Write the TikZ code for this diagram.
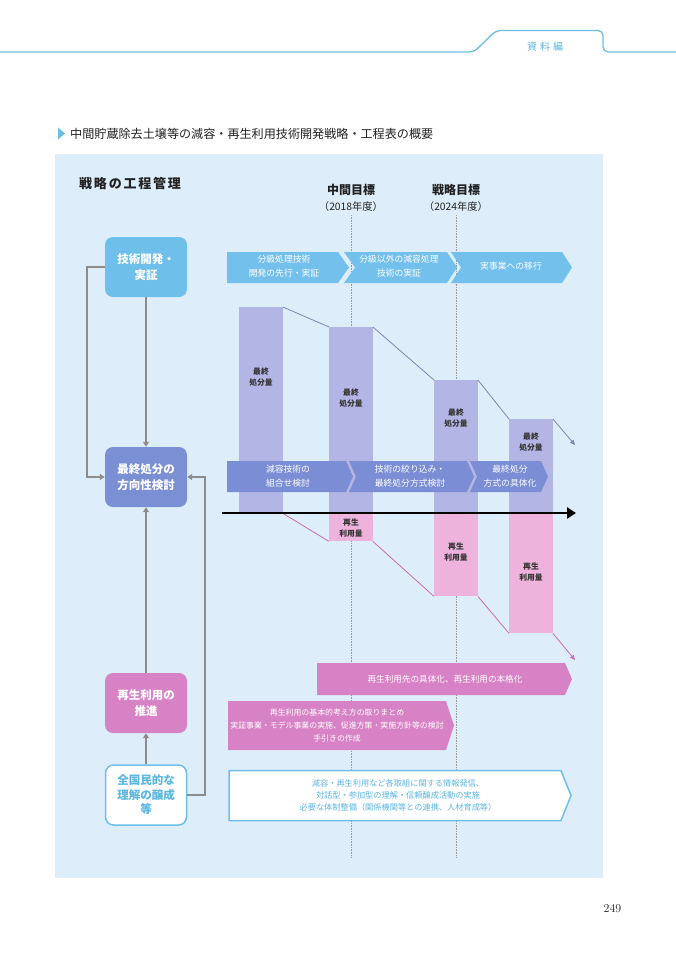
\documentclass[tikz,border=0pt]{standalone}
\usepackage{fontspec}
\newfontfamily\jp{Noto Sans CJK JP}
\usetikzlibrary{arrows.meta}
\definecolor{panel}{HTML}{DDEEFA}
\definecolor{techblue}{HTML}{6EC0EA}
\definecolor{arrowblue}{HTML}{74C0EC}
\definecolor{finalblue}{HTML}{7B8FD5}
\definecolor{midblue}{HTML}{7B8DD5}
\definecolor{lavbar}{HTML}{B3B6E4}
\definecolor{pinkbar}{HTML}{EEB3DD}
\definecolor{magentab}{HTML}{D882C6}
\definecolor{conngray}{HTML}{8C8C8C}
\definecolor{headblue}{HTML}{6BBDE4}
\definecolor{darktext}{HTML}{222222}
\definecolor{bartext}{HTML}{333333}
\definecolor{lavline}{HTML}{7F84B0}
\definecolor{pinkline}{HTML}{C86CB4}
\definecolor{dotgray}{HTML}{9A9A9A}
\definecolor{textblue}{HTML}{5BB6E2}
\newcommand\lsp{\hspace{1.8pt}}
\begin{document}
\begin{tikzpicture}[x=1pt,y=-1pt,
  boxnode/.style={rounded corners=8pt, minimum width=82pt, minimum height=60pt, inner sep=0pt, align=center, font=\jp\bfseries\fontsize{11.5}{16}\selectfont, text=white},
  conn/.style={draw=conngray, line width=1.8pt, -{Triangle[length=5pt,width=6pt]}},
  chevtxt/.style={text=white, align=center, inner sep=0pt, font=\jp\fontsize{8.8}{14}\selectfont},
  bartxt/.style={text=bartext, align=center, inner sep=0pt, font=\jp\bfseries\fontsize{7.8}{11.5}\selectfont},
  barst/.style={anchor=north west, inner sep=0pt, minimum width=43.5pt},
  dotline/.style={draw=dotgray, line width=0.7pt, dash pattern=on 0.7pt off 0.9pt},
  trend/.style={line width=0.8pt},
  coltitle/.style={font=\jp\bfseries\fontsize{12}{14}\selectfont, text=darktext, inner sep=0pt},
  colyear/.style={font=\jp\fontsize{10.3}{12}\selectfont, text=darktext, inner sep=0pt}
]
\useasboundingbox (0,0) rectangle (676,960);
\fill[white] (0,0) rectangle (676,960);

% header
\draw[headblue, line width=1.3pt, rounded corners=5pt] (0,52) -- (474,52) -- (496,30.5) -- (603,30.5) -- (603,52) -- (676,52);
\node[font=\jp\fontsize{10}{12}\selectfont, text=textblue, inner sep=0pt] (hdr) at (545,47) {資\hspace{3pt}料\hspace{3pt}編};

% title
\fill[headblue] (58,127.5) -- (65,133.5) -- (58,139.5) -- cycle;
\node[anchor=west, font=\jp\fontsize{12.1}{14}\selectfont, text=darktext, inner sep=0pt] (title) at (70,133.5) {中間貯蔵除去土壌等の減容・再生利用技術開発戦略・工程表の概要};

% panel
\fill[panel] (55,154) rectangle (603,878);

\node[anchor=west, font=\jp\bfseries\fontsize{13}{15}\selectfont, text=darktext, inner sep=0pt] (mgmt) at (79,184) {戦\lsp 略\lsp の\lsp 工\lsp 程\lsp 管\lsp 理};

\node[coltitle] (midgoal) at (351,190) {中間目標};
\node[colyear] (midyear) at (351,207) {（2018年度）};
\node[coltitle] (stratgoal) at (456,190) {戦略目標};
\node[colyear] (stratyear) at (456,207) {（2024年度）};

% dotted lines
\coordinate (d1t) at (351,215);
\coordinate (d1b) at (351,857);
\coordinate (d2t) at (456,215);
\coordinate (d2b) at (456,857);
\draw[dotline] (d1t) -- (d1b);
\draw[dotline] (d2t) -- (d2b);

% top chevrons
\fill[arrowblue] (227,252) -- (338,252) -- (349,267.5) -- (338,283) -- (227,283) -- cycle;
\fill[arrowblue] (344,252) -- (447,252) -- (457,267.5) -- (447,283) -- (344,283) -- (355,267.5) -- cycle;
\fill[arrowblue] (451,252) -- (562,252) -- (572,267.5) -- (562,283) -- (451,283) -- (461,267.5) -- cycle;
\node[chevtxt] (t1) at (284,266.5) {分級処理技術\\開発の先行・実証};
\node[chevtxt] (t2) at (399,266.5) {分級以外の減容処理\\技術の実証};
\node[chevtxt] (t3) at (511,266.5) {実事業への移行};

% bars
\node[barst, fill=lavbar, minimum height=206pt] (b1) at (239,307) {};
\node[barst, fill=lavbar, minimum height=186pt] (b2) at (329,327) {};
\node[barst, fill=lavbar, minimum height=133pt] (b3) at (434,380) {};
\node[barst, fill=lavbar, minimum height=94pt] (b4) at (509,419) {};
\node[barst, fill=pinkbar, minimum height=28pt] (p2) at (329,513) {};
\node[barst, fill=pinkbar, minimum height=83pt] (p3) at (434,513) {};
\node[barst, fill=pinkbar, minimum height=120pt] (p4) at (509,513) {};

\node[bartxt] (l1) at (261,377) {最終\\処分量};
\node[bartxt] (l2) at (351,398) {最終\\処分量};
\node[bartxt] (l3) at (456,418) {最終\\処分量};
\node[bartxt] (l4) at (531,442) {最終\\処分量};
\node[bartxt] (r2) at (351,528) {再生\\利用量};
\node[bartxt] (r3) at (456,552) {再生\\利用量};
\node[bartxt] (r4) at (531,572) {再生\\利用量};

% trend lines
\coordinate (lavend) at (575,445);
\coordinate (pinkend) at (575,660);
\draw[trend, lavline] (b1.north east) -- (b2.north west);
\draw[trend, lavline] (b2.north east) -- (b3.north west);
\draw[trend, lavline] (b3.north east) -- (b4.north west);
\draw[trend, lavline, -{Triangle[length=5pt,width=4.5pt,fill=midblue]}] (b4.north east) -- (lavend);
\draw[trend, pinkline] (b1.south east) -- (p2.south west);
\draw[trend, pinkline] (p2.south east) -- (p3.south west);
\draw[trend, pinkline] (p3.south east) -- (p4.south west);
\draw[trend, pinkline, -{Triangle[length=5pt,width=4.5pt,fill=magentab]}] (p4.south east) -- (pinkend);

% middle chevrons
\fill[midblue] (227,461) -- (346,461) -- (353,476.5) -- (346,492) -- (227,492) -- cycle;
\fill[midblue] (349,461) -- (467,461) -- (474,476.5) -- (467,492) -- (349,492) -- (356,476.5) -- cycle;
\fill[midblue] (470,461) -- (541,461) -- (548,476.5) -- (541,492) -- (470,492) -- (477,476.5) -- cycle;
\node[chevtxt] (m1) at (288,476) {減容技術の\\組合せ検討};
\node[chevtxt] (m2) at (410,476) {技術の絞り込み・\\最終処分方式検討};
\node[chevtxt] (m3) at (510,476) {最終処分\\方式の具体化};

% time axis
\coordinate (axisL) at (222,513);
\coordinate (axisR) at (576,513);
\draw[black, line width=2.8pt, -{Triangle[length=9pt,width=11pt]}] (axisL) -- (axisR);

% magenta chevrons
\fill[magentab] (317,663) -- (565,663) -- (572,679) -- (565,695) -- (317,695) -- cycle;
\node[chevtxt, font=\jp\fontsize{8.6}{12}\selectfont] (k1) at (445,679) {再生利用先の具体化、再生利用の本格化};
\fill[magentab] (228,701) -- (446,701) -- (454,725.5) -- (446,750) -- (228,750) -- cycle;
\node[chevtxt, font=\jp\fontsize{7.9}{12.8}\selectfont] (k2) at (337,725.5) {再生利用の基本的考え方の取りまとめ\\実証事業・モデル事業の実施、促進方策・実施方針等の検討\\手引きの作成};

% white chevron
\filldraw[fill=white, draw=techblue, line width=1.5pt] (229,770.5) -- (561,770.5) -- (571,795.5) -- (561,820.5) -- (229,820.5) -- cycle;
\node[chevtxt, text=textblue, font=\jp\fontsize{8.2}{12}\selectfont] (w1) at (398,795.5) {減容・再生利用など各取組に関する情報発信、\\対話型・参加型の理解・信頼醸成活動の実施\\必要な体制整備（関係機関等との連携、人材育成等）};

% left boxes
\node[boxnode, fill=techblue] (tech) at (146,267) {技術開発・\\実証};
\node[boxnode, fill=finalblue] (final) at (146,477) {最終処分の\\方向性検討};
\node[boxnode, fill=magentab] (recyc) at (146,703) {再生利用の\\推進};
\node[boxnode, fill=white, draw=techblue, line width=1.5pt, text=textblue, minimum height=60pt, minimum width=81pt, font=\jp\bfseries\fontsize{11.5}{14.5}\selectfont] (aware) at (146,795) {全国民的な\\理解の醸成\\等};

% connectors
\draw[conn] (tech.south) -- (final.north);
\draw[conn] (tech.west) -- ++(-18,0) |- (final.west);
\draw[conn] (recyc.north) -- (final.south);
\draw[conn] (aware.north) -- (recyc.south);
\draw[conn] (aware.east) -- ++(18,0) |- (final.east);

% page number
\node[font=\fontsize{12}{14}\selectfont, text=darktext, inner sep=0pt] (pg) at (612.5,909) {249};
\end{tikzpicture}
\end{document}
